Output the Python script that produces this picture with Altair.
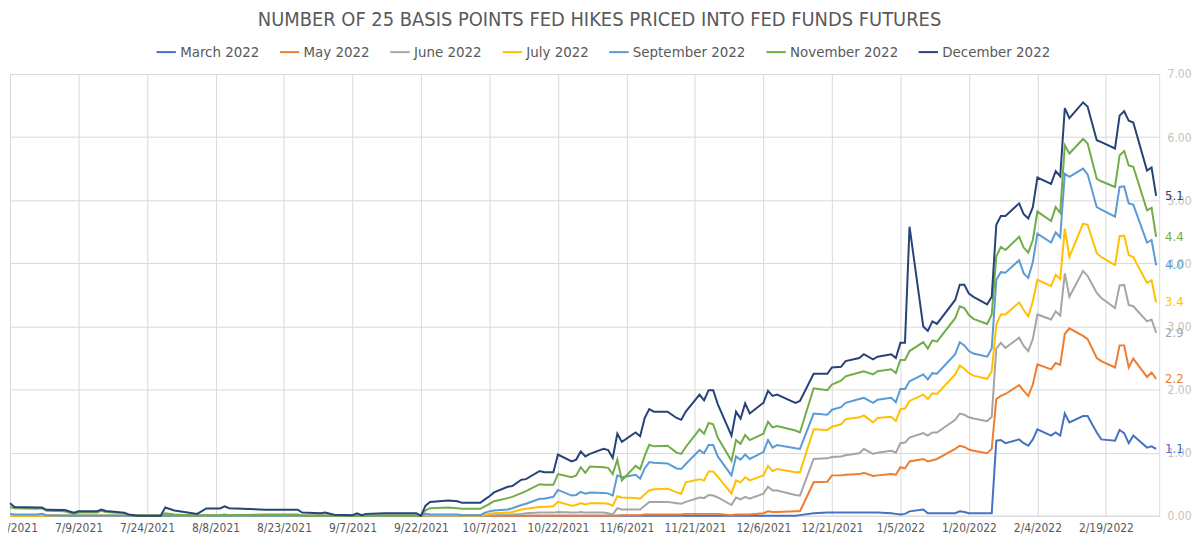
import altair as alt
import pandas as pd

dates = [
    "2021-06-24","2021-06-25","2021-06-30","2021-07-01","2021-07-02","2021-07-06","2021-07-08","2021-07-09","2021-07-13","2021-07-14",
    "2021-07-15","2021-07-19","2021-07-20","2021-07-22","2021-07-27","2021-07-28","2021-07-30","2021-08-04","2021-08-06","2021-08-09",
    "2021-08-10","2021-08-11","2021-08-19","2021-08-26","2021-08-27","2021-08-31","2021-09-01","2021-09-03","2021-09-07","2021-09-08",
    "2021-09-09","2021-09-10","2021-09-14","2021-09-21","2021-09-22","2021-09-23","2021-09-24","2021-09-28","2021-09-30","2021-10-01",
    "2021-10-05","2021-10-06","2021-10-07","2021-10-08","2021-10-11","2021-10-12","2021-10-14","2021-10-15","2021-10-18","2021-10-19",
    "2021-10-21","2021-10-22","2021-10-25","2021-10-26","2021-10-27","2021-10-28","2021-10-29","2021-11-01","2021-11-02","2021-11-03",
    "2021-11-04","2021-11-05","2021-11-08","2021-11-09","2021-11-10","2021-11-11","2021-11-12","2021-11-15","2021-11-17","2021-11-18",
    "2021-11-19","2021-11-22","2021-11-23","2021-11-24","2021-11-25","2021-11-26","2021-11-29","2021-11-30","2021-12-01","2021-12-02",
    "2021-12-03","2021-12-06","2021-12-07","2021-12-08","2021-12-09","2021-12-13","2021-12-14","2021-12-17","2021-12-20","2021-12-21",
    "2021-12-23","2021-12-24","2021-12-27","2021-12-28","2021-12-30","2021-12-31","2022-01-03","2022-01-04","2022-01-05","2022-01-06",
    "2022-01-07","2022-01-10","2022-01-11","2022-01-12","2022-01-13","2022-01-17","2022-01-18","2022-01-19","2022-01-20","2022-01-21",
    "2022-01-24","2022-01-25","2022-01-26","2022-01-27","2022-01-28","2022-01-31","2022-02-01","2022-02-02","2022-02-03","2022-02-04",
    "2022-02-07","2022-02-08","2022-02-09","2022-02-10","2022-02-11","2022-02-14","2022-02-15","2022-02-17","2022-02-18","2022-02-21",
    "2022-02-22","2022-02-23","2022-02-24","2022-02-25","2022-02-28","2022-03-01","2022-03-02",
]

march_2022 = [
    0,0,0,0,0,0,0,0,0,0,
    0,0,0,0,0,0,0,0,0,0,
    0,0,0,0,0,0,0,0,0,0,
    0,0,0,0,0,0,0,0,0,0,
    0,0,0,0,0,0,0,0,0,0,
    0,0,0,0,0,0,0,0,0,0,
    0,0,0,0,0,0,0,0,0,0,
    0,0,0,0,0,0,0,0,0,0,
    0,0,0,0,0,0,0.01,0.04,0.05,0.05,
    0.05,0.05,0.05,0.05,0.05,0.05,0.04,0.03,0.02,0.03,
    0.07,0.10,0.04,0.04,0.04,0.04,0.07,0.06,0.04,0.04,
    0.04,0.04,1.19,1.20,1.15,1.21,1.15,1.11,1.21,1.37,
    1.27,1.32,1.27,1.62,1.48,1.58,1.58,1.32,1.21,1.19,
    1.36,1.31,1.15,1.27,1.08,1.10,1.06,
]

may_2022 = [
    0,0,0,0,0,0,0,0,0,0,
    0,0,0,0,0,0,0,0,0,0,
    0,0,0,0,0,0,0,0,0,0,
    0,0,0,0,0,0,0,0,0,0,
    0,0,0,0,0,0,0,0,0,0,
    0,0,0,0,0,0,0,0,0,0,
    0,0.01,0.01,0.01,0.02,0.02,0.02,0.02,0.02,0.02,
    0.03,0.03,0.03,0.03,0.03,0.03,0.01,0.02,0.02,0.02,
    0.02,0.04,0.07,0.06,0.06,0.07,0.07,0.53,0.54,0.64,
    0.64,0.65,0.66,0.68,0.63,0.64,0.66,0.65,0.77,0.75,
    0.86,0.90,0.86,0.88,0.90,1.06,1.11,1.09,1.05,1.03,
    0.99,1.06,1.85,1.90,1.93,2.07,1.98,1.90,2.08,2.40,
    2.32,2.42,2.39,2.88,2.97,2.85,2.80,2.50,2.45,2.35,
    2.70,2.70,2.35,2.49,2.20,2.27,2.17,
]

june_2022 = [
    0,0,0,0,0,0,0,0,0,0,
    0,0,0,0,0,0,0,0,0,0,
    0,0,0,0,0,0,0,0,0,0,
    0,0,0,0,0,0,0,0,0,0,
    0,0,0.01,0.01,0.02,0.02,0.03,0.04,0.05,0.05,
    0.05,0.06,0.05,0.05,0.06,0.05,0.05,0.05,0.04,0.02,
    0.12,0.10,0.10,0.10,0.16,0.22,0.22,0.22,0.20,0.19,
    0.22,0.29,0.28,0.33,0.32,0.29,0.17,0.29,0.26,0.30,
    0.27,0.35,0.46,0.40,0.40,0.33,0.32,0.90,0.91,0.93,
    0.94,0.96,0.99,1.06,0.98,1.00,1.03,1.00,1.15,1.16,
    1.24,1.31,1.27,1.32,1.32,1.52,1.62,1.60,1.56,1.54,
    1.50,1.57,2.65,2.74,2.66,2.82,2.69,2.61,2.80,3.19,
    3.11,3.24,3.17,3.84,3.47,3.88,3.80,3.53,3.45,3.29,
    3.65,3.66,3.34,3.32,3.08,3.11,2.90,
]

july_2022 = [
    0,0,0,0,0,0,0,0,0,0,
    0,0,0,0,0,0,0,0,0,0,
    0,0,0,0,0,0,0,0,0,0,
    0,0,0,0,0,0.01,0.01,0.01,0.01,0,
    0,0.02,0.03,0.04,0.05,0.06,0.10,0.11,0.14,0.14,
    0.15,0.22,0.16,0.17,0.20,0.18,0.20,0.20,0.19,0.16,
    0.31,0.29,0.28,0.27,0.34,0.40,0.42,0.43,0.37,0.35,
    0.53,0.58,0.56,0.70,0.70,0.62,0.35,0.56,0.53,0.61,
    0.56,0.64,0.79,0.71,0.74,0.69,0.69,1.37,1.36,1.41,
    1.45,1.53,1.56,1.59,1.48,1.55,1.57,1.50,1.69,1.70,
    1.82,1.92,1.85,1.94,1.93,2.24,2.38,2.33,2.26,2.22,
    2.17,2.29,3.03,3.19,3.19,3.38,3.26,3.16,3.40,3.74,
    3.64,3.82,3.75,4.55,4.10,4.63,4.61,4.16,4.10,3.97,
    4.43,4.44,4.13,4.10,3.69,3.73,3.38,
]

september_2022 = [
    0.03,0.02,0.02,0.03,0.01,0,0,0,0,0,
    0,0,0,0,0,0,0,0,0,0,
    0,0,0,0,0,0,0,0,0,0,
    0,0,0,0,0,0.03,0.02,0.02,0.02,0.01,
    0.01,0.05,0.07,0.085,0.10,0.12,0.17,0.19,0.27,0.27,
    0.30,0.41,0.32,0.33,0.38,0.35,0.37,0.36,0.355,0.32,
    0.64,0.61,0.65,0.59,0.75,0.85,0.84,0.83,0.75,0.74,
    0.82,1.04,0.99,1.12,1.12,0.94,0.64,0.94,0.89,0.97,
    0.90,1.01,1.20,1.08,1.12,1.07,1.06,1.62,1.60,1.68,
    1.72,1.79,1.85,1.87,1.79,1.84,1.87,1.80,2.01,2.01,
    2.13,2.24,2.16,2.26,2.25,2.56,2.75,2.70,2.61,2.57,
    2.52,2.65,3.74,3.86,3.85,4.05,3.84,3.77,4.02,4.47,
    4.33,4.49,4.41,5.42,5.37,5.50,5.41,4.89,4.85,4.74,
    5.21,5.22,4.95,4.93,4.33,4.37,3.97,
]

november_2022 = [
    0.14,0.12,0.11,0.12,0.08,0.07,0.03,0.05,0.05,0.08,
    0.06,0.04,0.01,0,0,0.04,0.02,0,0.01,0.01,
    0.02,0.01,0.02,0.02,0,0,0,0,0,0,
    0,0,0,0,0,0.085,0.12,0.13,0.12,0.11,
    0.11,0.15,0.19,0.23,0.28,0.30,0.36,0.39,0.50,0.49,
    0.49,0.66,0.61,0.64,0.77,0.68,0.78,0.77,0.76,0.66,
    0.89,0.56,0.79,0.74,0.95,1.125,1.10,1.11,1.00,0.98,
    1.09,1.37,1.30,1.47,1.45,1.24,0.87,1.20,1.14,1.28,
    1.20,1.30,1.49,1.40,1.42,1.35,1.32,2.02,1.99,2.08,
    2.14,2.21,2.27,2.29,2.24,2.29,2.32,2.26,2.47,2.47,
    2.61,2.75,2.65,2.78,2.76,3.13,3.32,3.29,3.18,3.12,
    3.04,3.19,4.11,4.26,4.21,4.42,4.25,4.17,4.37,4.82,
    4.67,4.89,4.80,5.87,5.74,5.97,5.90,5.34,5.30,5.21,
    5.71,5.78,5.55,5.53,4.84,4.88,4.42,
]

december_2022 = [
    0.20,0.14,0.13,0.13,0.095,0.09,0.05,0.07,0.07,0.10,
    0.075,0.05,0.02,0,0,0.13,0.085,0.03,0.115,0.115,
    0.15,0.12,0.095,0.095,0.05,0.04,0.05,0.015,0.01,0.04,
    0.01,0.03,0.04,0.04,0,0.16,0.22,0.24,0.23,0.205,
    0.205,0.26,0.31,0.37,0.46,0.47,0.57,0.58,0.71,0.69,
    0.69,0.97,0.86,0.89,1.02,0.94,0.98,1.06,1.04,0.915,
    1.30,1.17,1.32,1.26,1.55,1.69,1.65,1.65,1.55,1.52,
    1.65,1.92,1.83,1.99,1.99,1.77,1.27,1.65,1.54,1.78,
    1.62,1.79,1.98,1.90,1.92,1.79,1.82,2.25,2.25,2.35,
    2.36,2.45,2.50,2.56,2.48,2.52,2.56,2.50,2.74,2.74,
    4.58,3.00,2.93,3.08,3.04,3.42,3.66,3.66,3.52,3.47,
    3.35,3.47,4.61,4.75,4.75,4.95,4.78,4.71,4.89,5.36,
    5.26,5.46,5.38,6.46,6.30,6.55,6.48,5.95,5.92,5.82,
    6.34,6.41,6.26,6.23,5.47,5.52,5.07,
]

series_names = ["March 2022", "May 2022", "June 2022", "July 2022",
                "September 2022", "November 2022", "December 2022"]
series_colors = ["#4472C4", "#ED7D31", "#A5A5A5", "#FFC000",
                 "#5B9BD5", "#70AD47", "#264478"]
tick_dates = ["2021-06-24", "2021-07-09", "2021-07-24", "2021-08-08", "2021-08-23",
              "2021-09-07", "2021-09-22", "2021-10-07", "2021-10-22", "2021-11-06",
              "2021-11-21", "2021-12-06", "2021-12-21", "2022-01-05", "2022-01-20",
              "2022-02-04", "2022-02-19"]
y_ticks = [0, 1, 2, 3, 4, 5, 6, 7]

wide = pd.DataFrame({
    "date": dates,
    "March 2022": march_2022,
    "May 2022": may_2022,
    "June 2022": june_2022,
    "July 2022": july_2022,
    "September 2022": september_2022,
    "November 2022": november_2022,
    "December 2022": december_2022,
})
df = wide.melt("date", var_name="contract", value_name="hikes")

NARROW = "'Liberation Sans Narrow', 'DejaVu Sans Condensed', Roboto, sans-serif"


def dt(s, hours=0):
    y, m, d = (int(p) for p in s.split("-"))
    return alt.DateTime(year=y, month=m, date=d, hours=hours, utc=True)


x_enc = alt.X(
    "date:T",
    scale=alt.Scale(type="utc", domain=[dt("2021-06-24"), dt("2022-03-02", 16)]),
    axis=alt.Axis(
        values=[dt(s) for s in tick_dates],
        labelExpr="utcFormat(datum.value, '%-m/%-d/%Y')",
        grid=True, gridColor="#D9D9D9", gridWidth=1,
        domain=False, ticks=False,
        labelColor="#595959", labelFontSize=12, labelFont=NARROW, labelPadding=7,
        labelFlush=False, labelOverlap=False, title=None,
    ),
)
y_enc = alt.Y(
    "hikes:Q",
    scale=alt.Scale(domain=[0, 7], nice=False),
    axis=alt.Axis(
        orient="right", values=y_ticks, format=".2f",
        grid=True, gridColor="#D9D9D9", gridWidth=1,
        domain=False, ticks=False,
        labelColor="#BFBFBF", labelFontSize=12, labelFont=NARROW,
        labelPadding=8, title=None,
    ),
)
color_enc = alt.Color(
    "contract:N",
    scale=alt.Scale(domain=series_names, range=series_colors),
    sort=series_names,
    legend=alt.Legend(
        orient="none", legendX=146, legendY=-33, direction="horizontal",
        title=None, symbolType="stroke", symbolStrokeWidth=2, symbolSize=380,
        labelFontSize=15, labelColor="#595959", labelFont=NARROW,
        columnPadding=16, labelOffset=3,
    ),
)

base = alt.Chart(df)

lines = base.mark_line(strokeWidth=2).encode(
    x=x_enc, y=y_enc, color=color_enc
)

end_labels = base.transform_window(
    rn="row_number()", groupby=["contract"],
    sort=[alt.SortField("date", order="descending")],
).transform_filter("datum.rn == 1").mark_text(
    align="left", baseline="middle", dx=9, fontSize=13, font=NARROW
).encode(
    x=x_enc, y=y_enc,
    text=alt.Text("hikes:Q", format=".1f"),
    color=alt.Color("contract:N", scale=alt.Scale(domain=series_names, range=series_colors), legend=None),
)

chart = alt.layer(lines, end_labels).properties(
    width=1155,
    height=444,
    autosize=alt.AutoSizeParams(type="none"),
    padding={"left": 2, "top": 65, "right": 33, "bottom": 20},
    title=alt.TitleParams(
        "NUMBER OF 25 BASIS POINTS FED HIKES PRICED INTO FED FUNDS FUTURES",
        font=NARROW, fontSize=20, fontWeight="normal", color="#595959",
        anchor="middle", offset=11, dx=15,
    ),
).configure_view(stroke=None).configure(font="Roboto")

chart.save("out.html", embed_options={"renderer": "svg", "actions": False})
